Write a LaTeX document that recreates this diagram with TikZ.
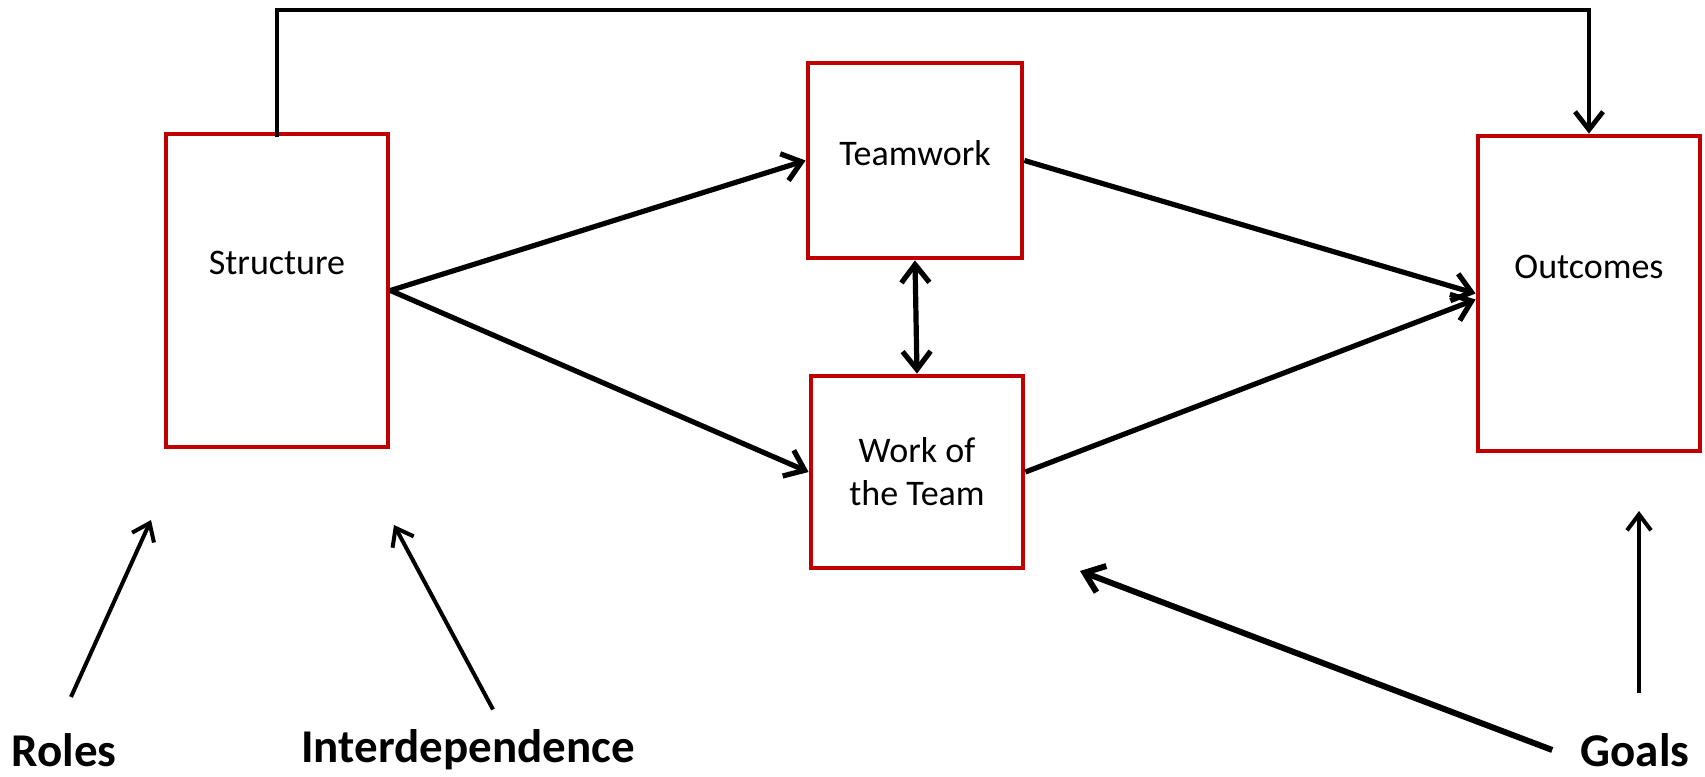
\documentclass[tikz,border=0pt]{standalone}
\usepackage{fontspec}
\setmainfont{Carlito}
\usetikzlibrary{arrows.meta, calc}
\definecolor{boxred}{RGB}{192,0,0}

\begin{document}
\begin{tikzpicture}[x=0.5pt, y=-0.5pt,
  box/.style={draw=boxred, line width=2.4pt, inner sep=0pt},
  boxtext/.style={font=\fontsize{18}{21.6}\selectfont, align=center},
  factor/.style={font=\fontsize{23.5}{28}\selectfont\bfseries, inner sep=2pt},
  link/.style={line width=2.6pt, -{Straight Barb[length=9pt, width=14pt]}},
  thinlink/.style={line width=2pt, -{Straight Barb[length=8pt, width=12pt]}}]

  % frame of the picture
  \useasboundingbox (0,0) rectangle (1705,777);

  % Boxes
  \node[box, minimum width=111pt, minimum height=156.5pt,
        label={[boxtext, yshift=14pt]center:Structure}] (struct) at (277,290.5) {};
  \node[box, minimum width=107pt, minimum height=97.5pt,
        label={[boxtext, yshift=3.5pt]center:Teamwork}] (teamwork) at (915,160.5) {};
  \node[box, minimum width=106pt, minimum height=96pt, boxtext] (work) at (917,472) {Work of\\the Team};
  \node[box, minimum width=111pt, minimum height=157.5pt,
        label={[boxtext, yshift=13.5pt]center:Outcomes}] (outcomes) at (1589,293.5) {};

  % Factors along the bottom
  \node[factor] (roles) at (64,750) {Roles};
  \node[factor] (interdep) at (468,750) {Interdependence};
  \node[factor] (goals) at (1635,750) {Goals};

  % free ends of the factor arrows
  \coordinate (rolesTip) at (151,520);
  \coordinate (interdepTip) at (394,525);
  \coordinate (goalsTip) at (1080,571);
  \coordinate (goalsUp) at (1639,511);
  \coordinate (top) at (900,10);

  % Main flow
  \draw[link] (struct.east) -- (teamwork.west);
  \draw[link] (struct.east) -- (work.west);
  \draw[link] (teamwork.east) -- (outcomes.west);
  \draw[link] (work.east) -- ([yshift=-3pt]outcomes.west);
  \draw[line width=2.6pt, {Straight Barb[length=9pt, width=14pt]}-{Straight Barb[length=9pt, width=14pt]}]
    (teamwork.south) -- (work.north);
  \draw[line width=2.4pt, -{Straight Barb[length=9pt, width=14pt]}, line join=miter]
    ([yshift=-2.5pt]struct.north) |- (top) -| (outcomes.north);

  % Factor arrows
  \draw[thinlink] ([shift={(3.5pt,16pt)}]roles.north) -- (rolesTip);
  \draw[thinlink] ([shift={(12.5pt,8pt)}]interdep.north) -- (interdepTip);
  \draw[link, line width=3pt] ([xshift=-12pt]goals.west) -- (goalsTip);
  \draw[thinlink] ([shift={(2pt,18pt)}]goals.north) -- (goalsUp);

\end{tikzpicture}
\end{document}
